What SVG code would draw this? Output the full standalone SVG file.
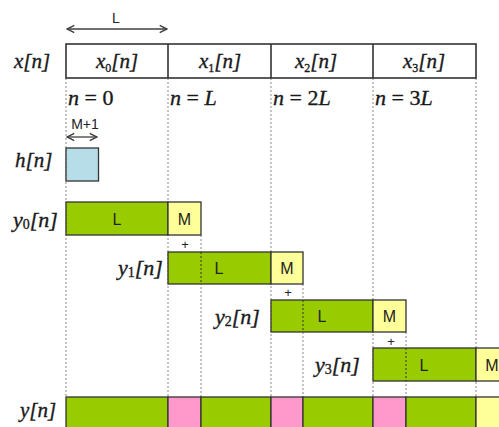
<svg xmlns="http://www.w3.org/2000/svg" width="499" height="427" viewBox="0 0 499 427">
  <defs>
    <marker id="ah" viewBox="0 0 10 10" refX="9" refY="5" markerWidth="7" markerHeight="7" orient="auto-start-reverse">
      <path d="M1,1 L9,5 L1,9" fill="none" stroke="#404040" stroke-width="1.6"/>
    </marker>
    <style>
      .math { font-family: "Liberation Serif", "DejaVu Serif", serif; font-style: italic; fill: #1a1a1a; stroke: #1a1a1a; stroke-width: 0.35; }
      .up { font-style: normal; }
      .sans { font-family: "Liberation Sans", Arial, sans-serif; fill: #222; }
      .lab { font-size: 16px; text-anchor: middle; }
      .box { stroke: #333; stroke-width: 1.3; }
      .g { fill: #99cc00; }
      .yl { fill: #ffff99; }
      .pk { fill: #ff99cc; }
      .bl { fill: #b7dde8; }
      .dot { stroke: #888; stroke-width: 1; stroke-dasharray: 2 2; fill: none; }
      .dotd { stroke: #333; stroke-width: 1; stroke-dasharray: 2 2; fill: none; }
      .arr { stroke: #404040; stroke-width: 1.3; fill: none; }
    </style>
  </defs>

  <rect width="499" height="427" fill="#fff"/>

  <!-- guide lines at block boundaries -->
  <g id="guides">
    <line class="dot" x1="66" y1="78" x2="66" y2="397"/>
    <line class="dot" x1="168" y1="78" x2="168" y2="397"/>
    <line class="dot" x1="271" y1="78" x2="271" y2="397"/>
    <line class="dot" x1="373" y1="78" x2="373" y2="397"/>
    <line class="dot" x1="476" y1="78" x2="476" y2="397"/>
    <line class="dot" x1="201" y1="235" x2="201" y2="397"/>
    <line class="dot" x1="303" y1="284" x2="303" y2="397"/>
    <line class="dot" x1="406" y1="332" x2="406" y2="397"/>
  </g>

  <!-- length arrows -->
  <g id="connectors">
    <line class="arr" x1="67" y1="29" x2="167" y2="29" marker-start="url(#ah)" marker-end="url(#ah)"/>
    <line class="arr" x1="67" y1="137" x2="97" y2="137" marker-start="url(#ah)" marker-end="url(#ah)"/>
  </g>
  <text class="sans" x="116" y="23" font-size="14" text-anchor="middle">L</text>
  <text class="sans" x="85" y="129" font-size="14" text-anchor="middle">M+1</text>

  <!-- input signal split into blocks -->
  <g id="x">
    <text class="math" x="14" y="68" font-size="21">x[n]</text>
    <rect x="66" y="44" width="410" height="34" fill="#fff" stroke="#333" stroke-width="1.6"/>
    <line x1="168" y1="44" x2="168" y2="78" stroke="#333" stroke-width="1.6"/>
    <line x1="271" y1="44" x2="271" y2="78" stroke="#333" stroke-width="1.6"/>
    <line x1="373" y1="44" x2="373" y2="78" stroke="#333" stroke-width="1.6"/>
    <text class="math" x="96" y="68" font-size="21">x<tspan class="up" font-size="12" dy="4">0</tspan><tspan dy="-4">[n]</tspan></text>
    <text class="math" x="199" y="68" font-size="21">x<tspan class="up" font-size="12" dy="4">1</tspan><tspan dy="-4">[n]</tspan></text>
    <text class="math" x="295" y="68" font-size="21">x<tspan class="up" font-size="12" dy="4">2</tspan><tspan dy="-4">[n]</tspan></text>
    <text class="math" x="403" y="68" font-size="21">x<tspan class="up" font-size="12" dy="4">3</tspan><tspan dy="-4">[n]</tspan></text>
  </g>

  <!-- block start indices -->
  <g id="indices">
    <text class="math" x="68" y="105" font-size="22">n<tspan class="up"> = 0</tspan></text>
    <text class="math" x="170" y="105" font-size="22">n<tspan class="up"> = </tspan>L</text>
    <text class="math" x="273" y="105" font-size="22">n<tspan class="up"> = 2</tspan>L</text>
    <text class="math" x="375" y="105" font-size="22">n<tspan class="up"> = 3</tspan>L</text>
  </g>

  <!-- filter -->
  <g id="h">
    <text class="math" x="15" y="167" font-size="21">h[n]</text>
    <rect class="box bl" x="66" y="148" width="32.5" height="33"/>
  </g>

  <!-- partial convolutions -->
  <g id="y0">
    <text class="math" x="13" y="227" font-size="22">y<tspan class="up" font-size="14" dy="2">0</tspan><tspan dy="-2">[n]</tspan></text>
    <rect class="box g" x="66" y="202" width="102" height="33"/>
    <rect class="box yl" x="168" y="202" width="33" height="33"/>
    <text class="sans lab" x="117" y="224.5">L</text>
    <text class="sans lab" x="184.5" y="224.5">M</text>
  </g>
  <text class="sans" x="185" y="249" font-size="13" text-anchor="middle">+</text>

  <g id="y1">
    <text class="math" x="118" y="275" font-size="22">y<tspan class="up" font-size="14" dy="2">1</tspan><tspan dy="-2">[n]</tspan></text>
    <rect class="box g" x="168" y="252" width="103" height="32"/>
    <rect class="box yl" x="271" y="252" width="32" height="32"/>
    <line class="dotd" x1="201" y1="252" x2="201" y2="284"/>
    <text class="sans lab" x="219" y="274">L</text>
    <text class="sans lab" x="287" y="274">M</text>
  </g>
  <text class="sans" x="288" y="297" font-size="13" text-anchor="middle">+</text>

  <g id="y2">
    <text class="math" x="215" y="324" font-size="22">y<tspan class="up" font-size="14" dy="2">2</tspan><tspan dy="-2">[n]</tspan></text>
    <rect class="box g" x="271" y="300" width="102" height="32"/>
    <rect class="box yl" x="373" y="300" width="33" height="32"/>
    <line class="dotd" x1="303" y1="300" x2="303" y2="332"/>
    <text class="sans lab" x="322" y="322">L</text>
    <text class="sans lab" x="389.5" y="322">M</text>
  </g>
  <text class="sans" x="391" y="346" font-size="13" text-anchor="middle">+</text>

  <g id="y3">
    <text class="math" x="315" y="372" font-size="22">y<tspan class="up" font-size="14" dy="2">3</tspan><tspan dy="-2">[n]</tspan></text>
    <rect class="box g" x="373" y="348" width="103" height="33"/>
    <rect class="box yl" x="476" y="348" width="33" height="33"/>
    <line class="dotd" x1="406" y1="348" x2="406" y2="381"/>
    <text class="sans lab" x="424" y="370.5">L</text>
    <text class="sans lab" x="492" y="370.5">M</text>
  </g>

  <!-- overlap-added output -->
  <g id="y">
    <text class="math" x="20" y="417" font-size="21">y[n]</text>
    <rect class="box g" x="66" y="397" width="102" height="40"/>
    <rect class="box pk" x="168" y="397" width="33" height="40"/>
    <rect class="box g" x="201" y="397" width="70" height="40"/>
    <rect class="box pk" x="271" y="397" width="32" height="40"/>
    <rect class="box g" x="303" y="397" width="70" height="40"/>
    <rect class="box pk" x="373" y="397" width="33" height="40"/>
    <rect class="box g" x="406" y="397" width="70" height="40"/>
    <rect class="box yl" x="476" y="397" width="33" height="40"/>
  </g>
</svg>
